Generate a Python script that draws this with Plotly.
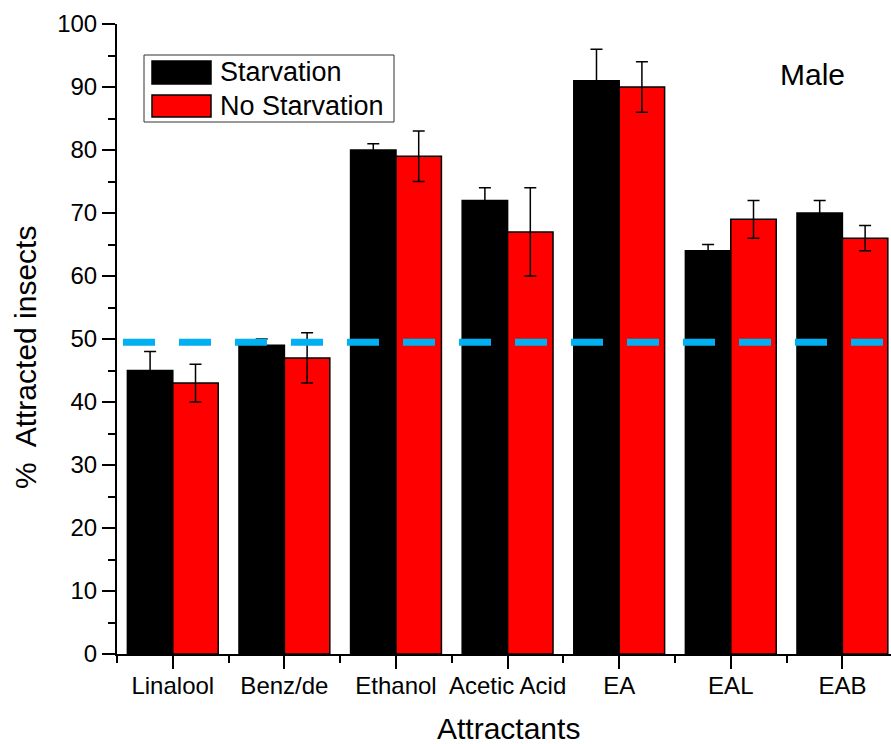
import plotly.graph_objects as go

categories = ["Linalool", "Benz/de", "Ethanol", "Acetic Acid", "EA", "EAL", "EAB"]
starvation = [45, 49, 80, 72, 91, 64, 70]
starvation_err = [3, 1, 1, 2, 5, 1, 2]
no_starvation = [43, 47, 79, 67, 90, 69, 66]
no_starvation_err = [3, 4, 4, 7, 4, 3, 2]
series_names = ["Starvation", "No Starvation"]
series_colors = ["#000000", "#FF0000"]
reference_level = 49.5
y_ticks = list(range(0, 101, 10))

W, H = 891, 744
ML, MR, MT, MB = 117, 0, 24, 90
PW, PH = W - ML - MR, H - MT - MB
UNIT = 111.6
x_end = -0.5 + PW / UNIT
FONT = "Liberation Sans, Arial, sans-serif"


def px_x(px):
    return (px - ML) / PW


def px_y(py):
    return (H - MB - py) / PH


xpos = list(range(len(categories)))

fig = go.Figure()
for name, vals, errs, col in [
    (series_names[0], starvation, starvation_err, series_colors[0]),
    (series_names[1], no_starvation, no_starvation_err, series_colors[1]),
]:
    fig.add_trace(go.Bar(
        x=xpos, y=vals, name=name,
        marker=dict(color=col, line=dict(color="#000000", width=1.5)),
        error_y=dict(type="data", array=errs, visible=True,
                     color="#000000", thickness=1.5, width=6),
        showlegend=False,
    ))

axis_common = dict(showgrid=False, zeroline=False, linecolor="#000000",
                   linewidth=2, tickcolor="#000000", tickwidth=2)

fig.update_layout(
    width=W, height=H,
    margin=dict(l=ML, r=MR, t=MT, b=MB, pad=0),
    paper_bgcolor="white", plot_bgcolor="white",
    barmode="group", bargap=0.186, bargroupgap=0,
    font=dict(family=FONT, color="#000000", size=24),
    xaxis=dict(range=[-0.5, x_end], tickmode="array", tickvals=xpos,
               ticktext=categories, ticks="outside", ticklen=13,
               showline=True, tickfont=dict(size=24, family=FONT),
               ticklabelstandoff=-4,
               minor=dict(tickmode="array",
                          tickvals=[i - 0.5 for i in range(len(categories) + 1)],
                          ticks="outside", ticklen=7, tickwidth=2,
                          tickcolor="#000000"),
               **axis_common),
    xaxis2=dict(range=[-0.5, x_end], overlaying="x", side="top",
                anchor="y", tickmode="array", tickvals=xpos,
                showticklabels=False, ticks="inside", ticklen=13,
                showline=True,
                minor=dict(tickmode="array",
                           tickvals=[i - 0.5 for i in range(len(categories) + 1)],
                           ticks="inside", ticklen=7, tickwidth=2,
                           tickcolor="#000000"),
                **axis_common),
    yaxis=dict(range=[0, 100], tickmode="array", tickvals=y_ticks,
               ticks="outside", ticklen=13, showline=True,
               tickfont=dict(size=24, family=FONT),
               minor=dict(dtick=5, tick0=0, ticks="outside", ticklen=7,
                          tickwidth=2, tickcolor="#000000"),
               **axis_common),
    yaxis2=dict(range=[0, 100], overlaying="y", side="right", anchor="x",
                tickmode="array", tickvals=y_ticks, showticklabels=False,
                ticks="inside", ticklen=6, showline=False,
                showgrid=False, zeroline=False, tickcolor="#000000",
                tickwidth=2),
)

# reference (50 %) dashed line
fig.add_shape(type="line", xref="paper", yref="y",
              x0=px_x(123), x1=1, y0=reference_level, y1=reference_level,
              line=dict(color="#00B0F0", width=7, dash="32px,24px"),
              layer="above")

# manual legend
fig.add_shape(type="rect", xref="paper", yref="paper",
              x0=px_x(144), x1=px_x(394), y0=px_y(122), y1=px_y(55),
              line=dict(color="#333333", width=1), fillcolor="white",
              layer="above")
sw = [(61, 84), (95, 117)]
for (t, b), name, col in zip(sw, series_names, series_colors):
    fig.add_shape(type="rect", xref="paper", yref="paper",
                  x0=px_x(152), x1=px_x(211), y0=px_y(b), y1=px_y(t),
                  line=dict(color="#000000", width=1.5), fillcolor=col,
                  layer="above")
    fig.add_annotation(xref="paper", yref="paper", x=px_x(218),
                       y=px_y((t + b) / 2), text=name, showarrow=False,
                       xanchor="left", yanchor="middle",
                       font=dict(size=27, family=FONT, color="#000000"))

fig.add_annotation(xref="paper", yref="paper", x=px_x(812.5), y=px_y(74),
                   text="Male", showarrow=False, xanchor="center",
                   yanchor="middle",
                   font=dict(size=30, family=FONT, color="#000000"))

fig.add_annotation(xref="paper", yref="paper", x=px_x(508), y=px_y(728),
                   text="Attractants", showarrow=False, xanchor="center",
                   yanchor="middle",
                   font=dict(size=30, family=FONT, color="#000000"))

fig.add_annotation(xref="paper", yref="paper", x=px_x(25), y=px_y(358),
                   text="%  Attracted insects", showarrow=False,
                   textangle=-90, xanchor="center", yanchor="middle",
                   font=dict(size=30, family=FONT, color="#000000"))

fig.write_html("out.html")
